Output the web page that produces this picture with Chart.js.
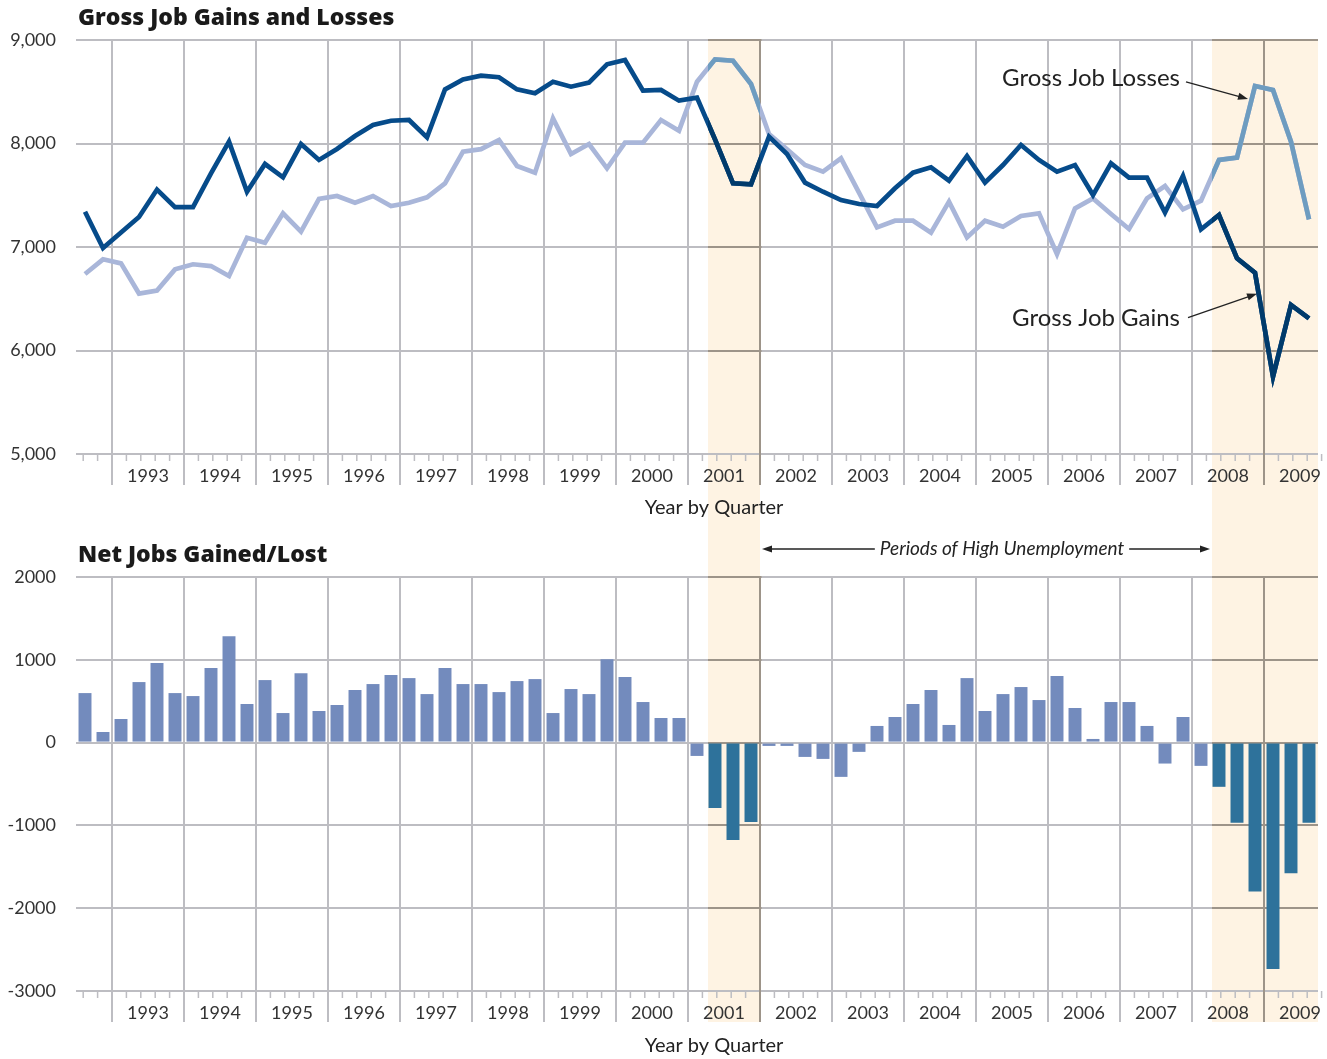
<!DOCTYPE html>
<html><head><meta charset="utf-8">
<script src="https://cdn.jsdelivr.net/npm/chart.js@4.4.1/dist/chart.umd.min.js"></script>
<style>
html,body{margin:0;padding:0;background:#fff;}
#wrap{position:relative;width:1327px;height:1059px;overflow:hidden;background:#fff;}
#c1{position:absolute;left:0;top:0;}
#c2{position:absolute;left:0;top:530px;}
</style></head><body>
<div id="wrap"><canvas id="c1" width="1327" height="530"></canvas><canvas id="c2" width="1327" height="529"></canvas></div>
<script>
const quarters = ["1992Q3","1992Q4",
"1993Q1","1993Q2","1993Q3","1993Q4","1994Q1","1994Q2","1994Q3","1994Q4",
"1995Q1","1995Q2","1995Q3","1995Q4","1996Q1","1996Q2","1996Q3","1996Q4",
"1997Q1","1997Q2","1997Q3","1997Q4","1998Q1","1998Q2","1998Q3","1998Q4",
"1999Q1","1999Q2","1999Q3","1999Q4","2000Q1","2000Q2","2000Q3","2000Q4",
"2001Q1","2001Q2","2001Q3","2001Q4","2002Q1","2002Q2","2002Q3","2002Q4",
"2003Q1","2003Q2","2003Q3","2003Q4","2004Q1","2004Q2","2004Q3","2004Q4",
"2005Q1","2005Q2","2005Q3","2005Q4","2006Q1","2006Q2","2006Q3","2006Q4",
"2007Q1","2007Q2","2007Q3","2007Q4","2008Q1","2008Q2","2008Q3","2008Q4",
"2009Q1","2009Q2","2009Q3"];
const yearLabels = ["1993","1994","1995","1996","1997","1998","1999","2000","2001","2002","2003","2004","2005","2006","2007","2008","2009"];
const gains = [7340,6990,7140,7290,7555,7385,7386,7712,8018,7534,7802,7673,7995,7841,7947,8072,8179,8220,8227,8059,8523,8619,8655,8640,8523,8485,8597,8549,8588,8765,8807,8510,8517,8414,8443,8040,7615,7605,8066,7899,7622,7534,7454,7415,7396,7567,7718,7770,7641,7879,7622,7792,7986,7841,7728,7792,7502,7808,7670,7670,7332,7686,7171,7309,6890,6752,5747,6440,6311];
const losses = [6739,6881,6842,6550,6580,6784,6833,6816,6720,7090,7042,7325,7148,7464,7493,7428,7493,7396,7428,7480,7615,7921,7945,8034,7783,7718,8243,7899,7995,7760,8008,8008,8227,8124,8597,8813,8800,8575,8092,7944,7792,7728,7857,7525,7190,7254,7254,7138,7438,7093,7254,7196,7300,7325,6932,7373,7470,7319,7174,7470,7589,7364,7447,7841,7863,8556,8517,8018,7267];
const net = [598,128,285,731,960,598,562,900,1285,466,755,357,839,382,454,635,707,815,779,586,900,707,707,610,743,767,357,647,586,1008,791,490,297,297,-161,-791,-1177,-960,-40,-40,-173,-197,-414,-112,201,309,466,635,213,779,382,586,671,514,803,418,44,490,490,201,-253,309,-281,-534,-968,-1799,-2735,-1578,-968];
const highUnemployment = [["2001Q2","2001Q4"],["2008Q2","2009Q3"]];
const grossTicks = [5000,6000,7000,8000,9000];
const netTicks = [-3000,-2000,-1000,0,1000,2000];

const GRID = '#bdbdc2', GRID_SHADE = '#9d9489', SHADE = '#fef3e3';
const GAINS = '#064b8a', GAINS_SH = '#003a6b';
const LOSSES = '#a9b6d9', LOSSES_SH = '#6e9cc0';
const BAR = '#738bbd', BAR_SH = '#2e729b';
const TXT = '#333333';
const FAM = 'Lato, "Open Sans", sans-serif';
const TITLE_FONT = '800 23px "Open Sans", Lato, sans-serif';

const startVals = yearLabels.map(y => quarters.indexOf(y + 'Q1'));
const startSet = new Set(startVals);
const centerLabel = new Map(yearLabels.map((y, k) => [startVals[k] + 2, y]));
const spans = highUnemployment.map(([a, b]) => [quarters.indexOf(a), quarters.indexOf(b) + 1]);
const inShade = i => spans.some(([s, e]) => i >= s && i < e);
const pts = arr => arr.map((v, i) => ({x: i + 0.5, y: v}));

function xScale(h) {
  return {
    type: 'linear', min: 0, max: quarters.length, offset: false,
    afterBuildTicks(s) {
      const t = [];
      startVals.forEach(v => { t.push({value: v}); if (v + 2 <= quarters.length) t.push({value: v + 2}); });
      s.ticks = t;
    },
    afterFit(s) { s.height = h; },
    grid: {
      offset: false,
      color: c => (c.tick && startSet.has(c.tick.value)) ? GRID : 'rgba(0,0,0,0)',
      lineWidth: 2, tickLength: 31, drawTicks: true, drawOnChartArea: true
    },
    border: {display: false},
    ticks: {
      autoSkip: false, maxRotation: 0, minRotation: 0, padding: -20, color: TXT,
      font: {family: FAM, size: 18},
      callback: v => centerLabel.get(v) || ''
    }
  };
}
function yScale(tk, fmt) {
  return {
    min: tk[0], max: tk[tk.length - 1],
    afterFit(s) { s.width = 76; },
    ticks: {stepSize: tk[1] - tk[0], padding: 20, color: TXT, font: {family: FAM, size: 18}, callback: fmt},
    grid: {color: GRID, lineWidth: 2, drawTicks: false},
    border: {display: false}
  };
}
function drawArrow(ctx, x1, y1, x2, y2) {
  const a = Math.atan2(y2 - y1, x2 - x1), L = 10, W = 3.6;
  ctx.save();
  ctx.strokeStyle = '#222'; ctx.fillStyle = '#222'; ctx.lineWidth = 1.3;
  ctx.beginPath(); ctx.moveTo(x1, y1);
  ctx.lineTo(x2 - Math.cos(a) * L * 0.8, y2 - Math.sin(a) * L * 0.8); ctx.stroke();
  ctx.beginPath(); ctx.moveTo(x2, y2);
  ctx.lineTo(x2 - Math.cos(a) * L - Math.sin(a) * W, y2 - Math.sin(a) * L + Math.cos(a) * W);
  ctx.lineTo(x2 - Math.cos(a) * L + Math.sin(a) * W, y2 - Math.sin(a) * L - Math.cos(a) * W);
  ctx.closePath(); ctx.fill();
  ctx.restore();
}
function decor(cfg) {
  return {
    id: 'decor',
    beforeDraw(chart) {
      const {ctx, scales: {x}} = chart;
      const top = cfg.shadeTop(chart), bot = cfg.shadeBottom(chart);
      ctx.save(); ctx.fillStyle = SHADE;
      spans.forEach(([s, e]) => {
        const x0 = x.getPixelForValue(s) + 2, x1 = x.getPixelForValue(e);
        ctx.fillRect(x0, top, x1 - x0, bot - top);
      });
      ctx.restore();
    },
    beforeDatasetsDraw(chart) {
      const {ctx, chartArea: ca, scales: {x, y}} = chart;
      ctx.save();
      ctx.beginPath();
      spans.forEach(([s, e]) => {
        const x0 = x.getPixelForValue(s) + 2, x1 = x.getPixelForValue(e);
        ctx.rect(x0, ca.top - 2, x1 - x0 + 1.5, ca.bottom - ca.top + 35);
      });
      ctx.clip();
      ctx.strokeStyle = GRID_SHADE; ctx.lineWidth = 2;
      y.ticks.forEach(t => {
        if (t.value === y.min) return;
        const py = Math.round(y.getPixelForValue(t.value));
        ctx.beginPath(); ctx.moveTo(ca.left, py); ctx.lineTo(ca.right, py); ctx.stroke();
      });
      startVals.forEach(v => {
        const px = Math.round(x.getPixelForValue(v));
        ctx.beginPath(); ctx.moveTo(px, ca.top); ctx.lineTo(px, ca.bottom + 31); ctx.stroke();
      });
      ctx.restore();
      // minor tick marks along the axis
      ctx.save(); ctx.strokeStyle = GRID; ctx.lineWidth = 1.5;
      const minor = [startVals[0] - 1.6, startVals[0] - 0.8];
      startVals.forEach(v => { for (let k = 1; k <= 4; k++) minor.push(v + 0.8 * k); });
      minor.filter(m => m > 0 && m <= quarters.length + 0.25).forEach(m => {
        const px = x.getPixelForValue(m);
        ctx.beginPath(); ctx.moveTo(px, ca.bottom); ctx.lineTo(px, ca.bottom + 7); ctx.stroke();
      });
      ctx.restore();
    },
    beforeDatasetDraw(chart, args) {
      const ds = chart.data.datasets[args.index];
      if (!ds.shadeOnly) return;
      const {ctx, scales: {x}} = chart;
      ctx.save(); ctx.beginPath();
      spans.forEach(([s, e]) => {
        const x0 = x.getPixelForValue(s) + 2, x1 = x.getPixelForValue(e);
        ctx.rect(x0, 0, x1 - x0, chart.height);
      });
      ctx.clip();
    },
    afterDatasetDraw(chart, args) {
      const ds = chart.data.datasets[args.index];
      if (ds.shadeOnly) chart.ctx.restore();
    },
    afterDraw(chart) { chart.ctx.save(); cfg.text(chart); chart.ctx.restore(); }
  };
}
const lineStyle = {borderWidth: 4.7, pointRadius: 0, pointHoverRadius: 0, tension: 0, fill: false, borderJoinStyle: 'miter', borderCapStyle: 'butt'};

new Chart(document.getElementById('c1'), {
  type: 'line',
  data: {datasets: [
    Object.assign({label: 'Gross Job Gains (high unemployment)', data: pts(gains), borderColor: GAINS_SH, shadeOnly: true}, lineStyle),
    Object.assign({label: 'Gross Job Gains', data: pts(gains), borderColor: GAINS}, lineStyle),
    Object.assign({label: 'Gross Job Losses (high unemployment)', data: pts(losses), borderColor: LOSSES_SH, shadeOnly: true}, lineStyle),
    Object.assign({label: 'Gross Job Losses', data: pts(losses), borderColor: LOSSES}, lineStyle)
  ]},
  options: {
    responsive: false, animation: false, devicePixelRatio: 1,
    layout: {padding: {top: 40, right: 9, left: 0, bottom: 0}},
    plugins: {legend: {display: false}, tooltip: {enabled: false}},
    scales: {x: xScale(76), y: yScale(grossTicks, v => v.toLocaleString('en-US'))}
  },
  plugins: [decor({
    shadeTop: c => c.chartArea.top,
    shadeBottom: c => c.height,
    text(chart) {
      const {ctx, chartArea: ca, scales: {x, y}} = chart;
      ctx.textBaseline = 'middle';
      ctx.fillStyle = '#1a1a1a'; ctx.textAlign = 'left';
      ctx.font = TITLE_FONT;
      ctx.fillText('Gross Job Gains and Losses', ca.left + 2, 18);
      ctx.fillStyle = '#222'; ctx.textAlign = 'center';
      ctx.font = `20px ${FAM}`;
      ctx.fillText('Year by Quarter', (ca.left + ca.right) / 2 + 17, ca.bottom + 54);
      const li = quarters.indexOf('2008Q4');
      const px = x.getPixelForValue(li + 0.5);
      const pyL = y.getPixelForValue(losses[li]), pyG = y.getPixelForValue(gains[li]);
      ctx.font = `24px ${FAM}`; ctx.textAlign = 'right'; ctx.fillStyle = '#222';
      ctx.fillText('Gross Job Losses', px - 75, pyL - 8);
      drawArrow(ctx, px - 69, pyL - 4, px - 7, pyL + 13);
      ctx.fillText('Gross Job Gains', px - 75, pyG + 46);
      drawArrow(ctx, px - 67, pyG + 45, px + 2, pyG + 21);
    }
  })]
});

new Chart(document.getElementById('c2'), {
  type: 'bar',
  data: {datasets: [{
    label: 'Net Jobs Gained/Lost', data: pts(net),
    backgroundColor: c => inShade(c.dataIndex) ? BAR_SH : BAR, borderWidth: 0,
    categoryPercentage: 0.8, barPercentage: 0.9
  }]},
  options: {
    responsive: false, animation: false, devicePixelRatio: 1,
    layout: {padding: {top: 47, right: 9, left: 0, bottom: 0}},
    plugins: {legend: {display: false}, tooltip: {enabled: false}},
    scales: {x: xScale(68), y: yScale(netTicks, v => String(v))}
  },
  plugins: [decor({
    shadeTop: c => 0,
    shadeBottom: c => c.chartArea.bottom + 31,
    text(chart) {
      const {ctx, chartArea: ca, scales: {x}} = chart;
      ctx.textBaseline = 'middle';
      ctx.fillStyle = '#1a1a1a'; ctx.textAlign = 'left';
      ctx.font = TITLE_FONT;
      ctx.fillText('Net Jobs Gained/Lost', ca.left + 2, 25);
      ctx.fillStyle = '#222'; ctx.textAlign = 'center';
      ctx.font = `20px ${FAM}`;
      ctx.fillText('Year by Quarter', (ca.left + ca.right) / 2 + 17, ca.bottom + 55);
      const xa = x.getPixelForValue(spans[0][1]) + 2, xb = x.getPixelForValue(spans[1][0]);
      const cx = (xa + xb) / 2 + 16, yy = 19;
      ctx.font = `italic 19px ${FAM}`;
      const w = ctx.measureText('Periods of High Unemployment').width;
      ctx.fillText('Periods of High Unemployment', cx, yy);
      drawArrow(ctx, cx - w / 2 - 5, yy, xa, yy);
      drawArrow(ctx, cx + w / 2 + 5, yy, xb, yy);
    }
  })]
});
</script>
</body></html>
